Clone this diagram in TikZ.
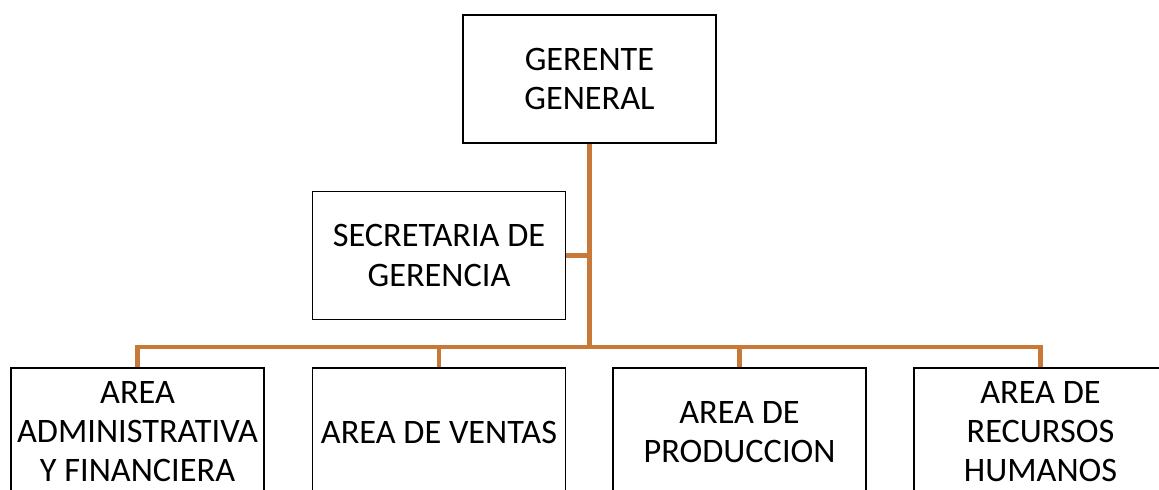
\documentclass[tikz,border=0pt]{standalone}
\usepackage{fontspec}
\setmainfont{Carlito}
\usepackage{tikz}
\usetikzlibrary{positioning}

\definecolor{linkorange}{RGB}{200,120,55}

\begin{document}
\begin{tikzpicture}[x=0.025cm, y=-0.025cm,
    box/.style={draw=black, line width=1.1pt, fill=white, align=center,
      minimum width=6.325cm, minimum height=3.2cm, inner sep=1pt,
      font=\fontsize{24.4}{27.8}\selectfont},
    link/.style={draw=linkorange, line width=3.2pt}]
    \clip (0,0) rectangle (1159,490);

    \node[box] (gg) at (589.5, 79) {GERENTE\\GENERAL};
    \node[box] (sec) at (439, 255.5) {SECRETARIA DE\\GERENCIA};

    \node[box] (adm) at (137.5, 432) {AREA\\ADMINISTRATIVA\\Y FINANCIERA};
    \node[box] (ven) at (439, 432) {AREA DE VENTAS};
    \node[box] (pro) at (739.5, 432) {AREA DE\\PRODUCCION};
    \node[box] (rrh) at (1040.5, 432) {AREA DE\\RECURSOS\\HUMANOS};

    \coordinate (bus) at (589.5, 347);

    \draw[link] (gg.south) -- (bus);
    \draw[link] (sec.east) -- (sec.east -| bus);
    \draw[link] (adm.north) |- (bus) -| (rrh.north);
    \foreach \n in {ven, pro} {
      \draw[link] (\n.north) -- (\n.north |- bus);
    }
\end{tikzpicture}
\end{document}
